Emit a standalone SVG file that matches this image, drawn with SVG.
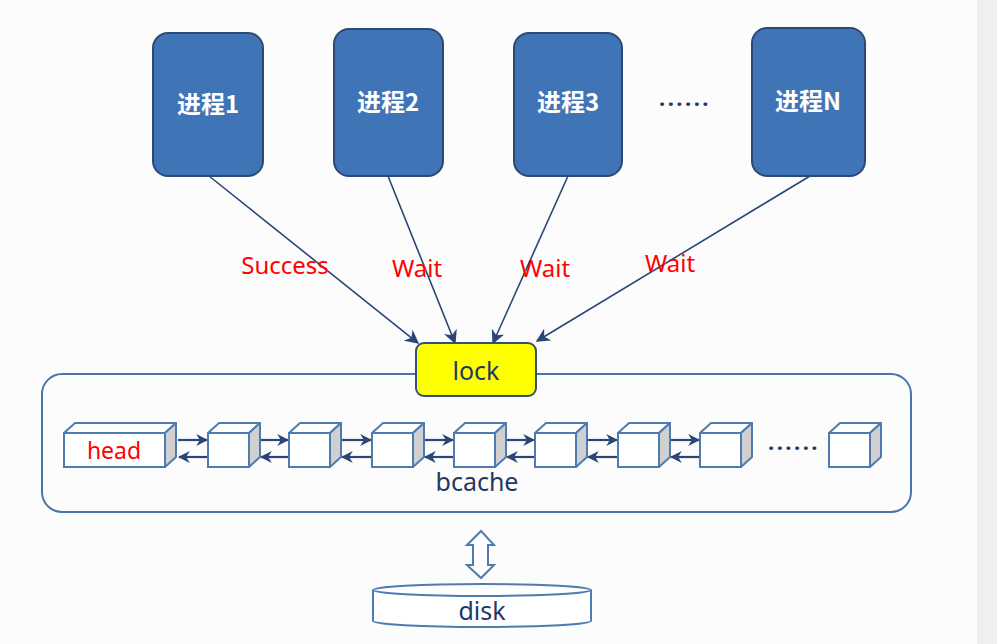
<svg xmlns="http://www.w3.org/2000/svg" width="997" height="644" viewBox="0 0 997 644">
<style>
.proc{fill:#3f75b7;stroke:#2b4a73;stroke-width:2}
.pt{font-family:"Noto Sans CJK SC","Noto Sans",sans-serif;font-weight:bold;font-size:24px;fill:#fff;text-anchor:middle}
.lbl{font-family:"Noto Sans","Noto Sans CJK SC",sans-serif;font-size:24px;fill:#ff0000;text-anchor:middle}
.dk{font-family:"Noto Sans","Noto Sans CJK SC",sans-serif;font-size:25px;fill:#1f3864;text-anchor:middle}
.dots{font-family:"Noto Sans",sans-serif;font-size:22px;font-weight:bold;fill:#1f3864;letter-spacing:2.5px;text-anchor:middle}
.conn{stroke:#2a4677;stroke-width:1.6;fill:none}
.front{fill:#fff;stroke:#4e7bb0;stroke-width:2}
.top{fill:#fff;stroke:#4e7bb0;stroke-width:2;stroke-linejoin:round}
.side{fill:#d0d0d0;stroke:#4e7bb0;stroke-width:2;stroke-linejoin:round}
.ln{stroke:#2a4677;stroke-width:2.2;fill:none}
</style>
<defs>
<marker id="ah" viewBox="0 0 10 10" refX="9" refY="5" markerWidth="12" markerHeight="12" markerUnits="userSpaceOnUse" orient="auto">
<path d="M0,0 L10,5 L0,10 L3,5 Z" fill="#2a4677"/>
</marker>
<marker id="ah2" viewBox="0 0 10 10" refX="9" refY="5" markerWidth="14" markerHeight="14" markerUnits="userSpaceOnUse" orient="auto">
<path d="M0,0 L10,5 L0,10 L3,5 Z" fill="#2a4677"/>
</marker>
<g id="cube">
<rect class="front" x="0" y="0" width="41" height="34"/>
<path class="top" d="M0,0 L11,-10 L52,-10 L41,0 Z"/>
<path class="side" d="M41,0 L52,-10 L52,24 L41,34 Z"/>
</g>
</defs>
<rect x="0" y="0" width="997" height="644" fill="#fcfcfc"/>
<rect x="977" y="0" width="20" height="644" fill="#efefef"/>

<g id="bcache">
<rect x="42" y="374" width="869" height="138" rx="20" fill="none" stroke="#4a75a8" stroke-width="2"/>
<text class="dk" x="477" y="491">bcache</text>
</g>

<g id="connectors">
<line class="conn" x1="209" y1="176" x2="418" y2="343" marker-end="url(#ah2)"/>
<line class="conn" x1="388" y1="176" x2="455" y2="343" marker-end="url(#ah2)"/>
<line class="conn" x1="568" y1="176" x2="493" y2="343" marker-end="url(#ah2)"/>
<line class="conn" x1="810" y1="176" x2="537" y2="341" marker-end="url(#ah2)"/>
<g id="list-links">
<line class="ln" x1="178" y1="440" x2="207" y2="440" marker-end="url(#ah)"/>
<line class="ln" x1="207" y1="457" x2="179" y2="457" marker-end="url(#ah)"/>
<line class="ln" x1="260" y1="440" x2="288" y2="440" marker-end="url(#ah)"/>
<line class="ln" x1="288" y1="457" x2="261" y2="457" marker-end="url(#ah)"/>
<line class="ln" x1="341" y1="440" x2="371" y2="440" marker-end="url(#ah)"/>
<line class="ln" x1="371" y1="457" x2="342" y2="457" marker-end="url(#ah)"/>
<line class="ln" x1="424" y1="440" x2="453" y2="440" marker-end="url(#ah)"/>
<line class="ln" x1="453" y1="457" x2="425" y2="457" marker-end="url(#ah)"/>
<line class="ln" x1="506" y1="440" x2="534" y2="440" marker-end="url(#ah)"/>
<line class="ln" x1="534" y1="457" x2="507" y2="457" marker-end="url(#ah)"/>
<line class="ln" x1="587" y1="440" x2="617" y2="440" marker-end="url(#ah)"/>
<line class="ln" x1="617" y1="457" x2="588" y2="457" marker-end="url(#ah)"/>
<line class="ln" x1="670" y1="440" x2="699" y2="440" marker-end="url(#ah)"/>
<line class="ln" x1="699" y1="457" x2="671" y2="457" marker-end="url(#ah)"/>
</g>
</g>

<g id="labels">
<text class="lbl" x="285" y="274">Success</text>
<text class="lbl" x="417" y="277">Wait</text>
<text class="lbl" x="545" y="277">Wait</text>
<text class="lbl" x="670" y="272">Wait</text>
</g>

<g id="p1"><rect class="proc" x="153" y="33" width="110" height="143" rx="15"/><text class="pt" x="208" y="113">进程1</text></g>
<g id="p2"><rect class="proc" x="334" y="29" width="109" height="147" rx="15" stroke="#16263d"/><text class="pt" x="388" y="111">进程2</text></g>
<g id="p3"><rect class="proc" x="514" y="33" width="108" height="143" rx="15"/><text class="pt" x="568" y="111">进程3</text></g>
<g id="dots-top"><text class="dots" x="685" y="106">......</text></g>
<g id="pN"><rect class="proc" x="752" y="28" width="113" height="148" rx="15"/><text class="pt" x="808" y="110">进程N</text></g>

<g id="lock">
<rect x="416" y="343" width="120" height="53" rx="8" fill="#ffff00" stroke="#2f4f7f" stroke-width="2"/>
<text class="dk" x="476" y="380" font-size="26">lock</text>
</g>

<g id="head">
<rect class="front" x="64" y="433" width="101" height="34"/>
<path class="top" d="M64,433 L75,423 L176,423 L165,433 Z"/>
<path class="side" d="M165,433 L176,423 L176,457 L165,467 Z"/>
<text x="114" y="459" font-family="Noto Sans, sans-serif" font-size="23" fill="#ff0000" text-anchor="middle">head</text>
</g>
<g id="c1"><use href="#cube" x="208" y="433"/></g>
<g id="c2"><use href="#cube" x="289" y="433"/></g>
<g id="c3"><use href="#cube" x="372" y="433"/></g>
<g id="c4"><use href="#cube" x="454" y="433"/></g>
<g id="c5"><use href="#cube" x="535" y="433"/></g>
<g id="c6"><use href="#cube" x="618" y="433"/></g>
<g id="c7"><use href="#cube" x="700" y="433"/></g>
<g id="dots-mid"><text class="dots" x="794" y="450">......</text></g>
<g id="c8"><use href="#cube" x="829" y="433"/></g>

<g id="io-arrow">
<path d="M481,531 L494,545 L488,545 L488,565 L494,565 L481,578 L467,565 L473,565 L473,545 L467,545 Z" fill="#fff" stroke="#4e7bb0" stroke-width="2" stroke-linejoin="miter"/>
</g>

<g id="disk">
<path d="M373,590 L373,621 A109,6 0 0 0 591,621 L591,590" fill="#fff" stroke="#4e7bb0" stroke-width="2"/>
<ellipse cx="482" cy="590" rx="109" ry="6" fill="#fff" stroke="#4e7bb0" stroke-width="2"/>
<text class="dk" x="482" y="620">disk</text>
</g>
</svg>
